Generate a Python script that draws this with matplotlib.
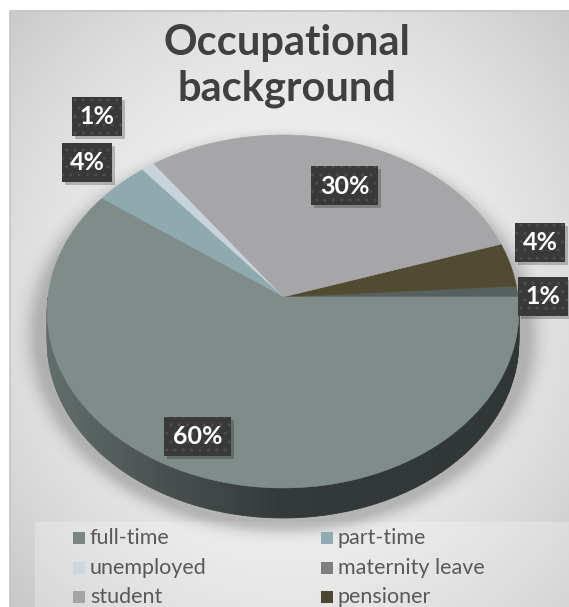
import numpy as np
import matplotlib
matplotlib.use("Agg")
import matplotlib.pyplot as plt
from matplotlib.patches import Polygon, Rectangle
from matplotlib.colors import to_rgb

# ---- data ----
categories = ["full-time", "part-time", "unemployed", "maternity leave", "student", "pensioner"]
values = [60, 4, 1, 1, 30, 4]
swatch_colors = ["#7b8683", "#8faab0", "#cdd7dd", "#7f7f7f", "#a5a5a5", "#4c472f"]
face_colors = ["#7f8c89", "#8eaaae", "#c8d4db", "#56615f", "#a6a6a8", "#514b31"]
# slices laid out counter-clockwise starting at 3 o'clock
pie_order = ["maternity leave", "pensioner", "student", "unemployed", "part-time", "full-time"]
title_lines = ["Occupational", "background"]
label_pos = {
    "full-time": (198, 436),
    "part-time": (87, 162),
    "unemployed": (97, 116),
    "maternity leave": (543, 296),
    "student": (345, 185),
    "pensioner": (540, 242),
}

W, H = 569, 607
fig = plt.figure(figsize=(W / 100, H / 100), dpi=100)
ax = fig.add_axes([0, 0, 1, 1])
ax.set_xlim(0, W)
ax.set_ylim(H, 0)
ax.axis("off")

# ---- background panel with radial shading ----
yy, xx = np.mgrid[0:H, 0:W] + 0.5
r = np.hypot((xx - 290) / 330, (yy - 300) / 360)
g = np.clip(0.955 - 0.12 * r ** 2, 0, 1)
bg = np.dstack([g, g, g])
bg[:10, :] = 1.0
bg[:, :10] = 1.0
ax.imshow(bg, extent=(0, W, H, 0), zorder=0, interpolation="bilinear", aspect="auto")
ax.add_patch(Rectangle((10.5, 10.5), W, H, fill=False, ec="#c4c4c4", lw=1.2, zorder=1))
ax.add_patch(Rectangle((35, 522), W, 100, fc="white", alpha=0.25, lw=0, zorder=1))

# ---- perspective projection of the pie disc ----
CX, CY = 283.0, 297.0
A, B, K = 235.0, 175.3, 0.082
DEPTH = 30.0


def proj(t_deg, rad=1.0, drop=0.0):
    t = np.radians(t_deg)
    X, Y = rad * np.cos(t), rad * np.sin(t)
    w = 1 + K * Y
    return CX + A * X / w, CY - B * Y / w + drop


# soft shadow under the pie
sr = np.hypot((xx - 283) / 242, (yy - 335) / 188)
sa = 0.22 * np.exp(-(np.clip(sr - 1, 0, None) / 0.06) ** 2)
shadow = np.zeros((H, W, 4))
shadow[..., 3] = sa
ax.imshow(shadow, extent=(0, W, H, 0), zorder=2, interpolation="bilinear", aspect="auto")

# side wall of the front half
stops = [(0.0, "#626e6c"), (0.25, "#48504f"), (0.5, "#34393a"), (1.0, "#303536")]


def side_color(f):
    f = min(max(f, 0), 1)
    for (f0, c0), (f1, c1) in zip(stops[:-1], stops[1:]):
        if f <= f1:
            u = (f - f0) / (f1 - f0)
            a0, a1 = np.array(to_rgb(c0)), np.array(to_rgb(c1))
            return tuple(a0 + (a1 - a0) * u)
    return to_rgb(stops[-1][1])


ts = np.linspace(180, 360, 181)
for t0, t1 in zip(ts[:-1], ts[1:]):
    x0, y0 = proj(t0)
    x1, y1 = proj(t1)
    quad = [(x0, y0), (x1, y1), (x1, y1 + DEPTH), (x0, y0 + DEPTH)]
    c = side_color(((x0 + x1) / 2 - 48) / 470)
    ax.add_patch(Polygon(quad, closed=True, fc=c, ec=c, lw=0.6, zorder=3))

# top face wedges
total = sum(values)
start = 0.0
for name in pie_order:
    i = categories.index(name)
    sweep = 360.0 * values[i] / total
    arc = np.linspace(start, start + sweep, max(int(sweep * 2), 4))
    px, py = proj(arc)
    verts = [(CX, CY)] + list(zip(px, py))
    ax.add_patch(Polygon(verts, closed=True, fc=face_colors[i], ec=face_colors[i], lw=0.4, zorder=4))
    start += sweep

# data labels
label_font = dict(family="Lato", weight="bold", size=18, color="white")
for name, (lx, ly) in label_pos.items():
    v = values[categories.index(name)]
    txt = f"{v}%"
    bw, bh = 17 * len(txt) + 16, 39
    ax.add_patch(Rectangle((lx - bw / 2 + 3, ly - bh / 2 + 3), bw, bh, fc="black", alpha=0.22, lw=0, zorder=5))
    ax.add_patch(Rectangle((lx - bw / 2, ly - bh / 2), bw, bh, fc="#393939", ec="#4d4d4d",
                           hatch="..", lw=0, zorder=6))
    ax.text(lx, ly + 1, txt, ha="center", va="center", zorder=7, **label_font)

# title
title_font = dict(family="Lato", weight="bold", size=30, color="#404040")
ax.text(287, 55, title_lines[0], ha="center", va="baseline", zorder=7, **title_font)
ax.text(287, 100, title_lines[1], ha="center", va="baseline", zorder=7, **title_font)

# legend
for i, (name, col) in enumerate(zip(categories, swatch_colors)):
    row, c = divmod(i, 2)
    x0 = 73 if c == 0 else 321
    yc = 538 + 29.5 * row
    ax.add_patch(Rectangle((x0, yc - 6), 12, 12, fc=col, lw=0, zorder=7))
    ax.text(x0 + 17, yc, name, ha="left", va="center", family="Lato", size=15.5,
            color="#595959", zorder=7)

fig.savefig("out.png", dpi=100)
